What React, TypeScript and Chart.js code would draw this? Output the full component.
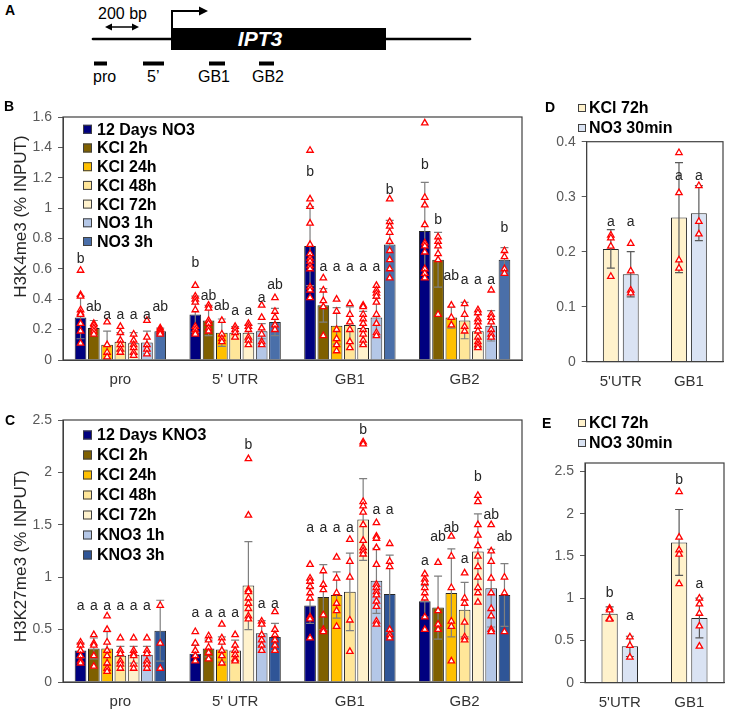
import React, { useEffect, useRef } from 'react';
import { Chart, registerables } from 'chart.js';
Chart.register(...registerables);

const FONT = 'Arial, "Liberation Sans", Helvetica, sans-serif';

// ---------------- Panel B : H3K4me3 ----------------
const regionsB = ['pro', "5' UTR", 'GB1', 'GB2'];
const seriesB = ['12 Days NO3', 'KCl 2h', 'KCl 24h', 'KCl 48h', 'KCl 72h', 'NO3 1h', 'NO3 3h'];
const colorsB = ['#00007F', '#7F6000', '#FFC000', '#FFE699', '#FFF2CC', '#B4C7E7', '#4A6FA9'];
const yTicksB = [0, 0.2, 0.4, 0.6, 0.8, 1, 1.2, 1.4, 1.6];
const meanB = [
  [0.28, 0.30, 0.75, 0.85],
  [0.21, 0.26, 0.36, 0.66],
  [0.10, 0.18, 0.225, 0.28],
  [0.12, 0.18, 0.23, 0.26],
  [0.11, 0.18, 0.21, 0.19],
  [0.115, 0.19, 0.28, 0.225],
  [0.19, 0.25, 0.76, 0.66],
];
const sdB = [
  [0.14, 0.12, 0.26, 0.32],
  [0.05, 0.10, 0.11, 0.18],
  [0.09, 0.09, 0.12, 0.07],
  [0.06, 0.04, 0.12, 0.12],
  [0.07, 0.05, 0.11, 0.11],
  [0.075, 0.05, 0.125, 0.10],
  [0.02, 0.09, 0.16, 0.08],
];
const lettersB = [
  ['b', 'b', 'b', 'b'],
  ['ab', 'ab', 'a', 'b'],
  ['a', 'ab', 'a', 'ab'],
  ['a', 'a', 'a', 'a'],
  ['a', 'a', 'a', 'a'],
  ['a', 'a', 'a', 'a'],
  ['ab', 'ab', 'b', 'b'],
];
const letterAtB = [
  [0.665, 0.636, 1.24, 1.28],
  [0.35, 0.423, 0.61, 0.92],
  [0.296, 0.357, 0.61, 0.55],
  [0.296, 0.32, 0.61, 0.526],
  [0.296, 0.32, 0.61, 0.526],
  [0.296, 0.406, 0.61, 0.526],
  [0.35, 0.49, 1.12, 0.866],
];
const ptsB_12d = [
  [0.59, 0.43, 0.42, 0.33, 0.31, 0.30, 0.24, 0.19, 0.11],
  [0.49, 0.42, 0.40, 0.38, 0.33, 0.22, 0.20, 0.18, 0.17],
  [1.38, 1.06, 1.01, 0.90, 0.76, 0.70, 0.67, 0.65, 0.62, 0.60, 0.48, 0.46, 0.41],
  [1.56, 1.07, 1.02, 0.89, 0.77, 0.75, 0.71, 0.60, 0.57, 0.54],
];
const ptsB_kcl2 = [
  [0.24, 0.23, 0.21, 0.19, 0.17],
  [0.36, 0.34, 0.26, 0.24, 0.21, 0.19],
  [0.54, 0.46, 0.39, 0.35, 0.16],
  [0.81, 0.78, 0.75, 0.70, 0.66, 0.30],
];
const ptsB_kcl24 = [
  [0.25, 0.10, 0.05, 0.02],
  [0.26, 0.17, 0.14, 0.12],
  [0.40, 0.32, 0.20, 0.14, 0.10, 0.06],
  [0.36, 0.28, 0.23],
];
const ptsB_kcl48 = [
  [0.22, 0.18, 0.13, 0.10, 0.07, 0.05],
  [0.22, 0.20, 0.18, 0.15],
  [0.37, 0.30, 0.25, 0.20, 0.12, 0.08],
  [0.37, 0.30, 0.22, 0.19],
];
const ptsB_kcl72 = [
  [0.17, 0.13, 0.10, 0.08, 0.05, 0.03],
  [0.24, 0.22, 0.20, 0.15, 0.13, 0.10],
  [0.36, 0.35, 0.30, 0.27, 0.24, 0.20, 0.17, 0.13, 0.10],
  [0.33, 0.31, 0.27, 0.25, 0.22, 0.19, 0.15, 0.12, 0.10, 0.08],
];
const ptsB_no1 = [
  [0.26, 0.15, 0.10, 0.07, 0.04],
  [0.36, 0.28, 0.21, 0.17, 0.12, 0.10],
  [0.49, 0.46, 0.44, 0.42, 0.38, 0.30, 0.24, 0.18, 0.16],
  [0.46, 0.30, 0.28, 0.25, 0.20, 0.17, 0.15],
];
const ptsB_no3 = [
  [0.21, 0.20, 0.19, 0.18, 0.17],
  [0.41, 0.32, 0.28, 0.23, 0.20],
  [1.06, 0.91, 0.88, 0.84, 0.78, 0.72, 0.66, 0.60, 0.54],
  [0.72, 0.68, 0.60, 0.57],
];

// ---------------- Panel C : H3K27me3 ----------------
const regionsC = ['pro', "5' UTR", 'GB1', 'GB2'];
const seriesC = ['12 Days KNO3', 'KCl 2h', 'KCl 24h', 'KCl 48h', 'KCl 72h', 'KNO3 1h', 'KNO3 3h'];
const colorsC = ['#00007F', '#7F6000', '#FFC000', '#FFE699', '#FFF2CC', '#B4C7E7', '#2F5597'];
const yTicksC = [0, 0.5, 1, 1.5, 2, 2.5];
const meanC = [
  [0.30, 0.27, 0.73, 0.77],
  [0.32, 0.32, 0.81, 0.71],
  [0.32, 0.31, 0.83, 0.85],
  [0.25, 0.30, 0.86, 0.69],
  [0.26, 0.92, 1.55, 1.245],
  [0.26, 0.465, 0.965, 0.895],
  [0.49, 0.43, 0.84, 0.83],
];
const sdC = [
  [0.07, 0.08, 0.17, 0.15],
  [0.10, 0.08, 0.31, 0.30],
  [0.16, 0.12, 0.22, 0.42],
  [0.09, 0.10, 0.37, 0.26],
  [0.08, 0.42, 0.39, 0.36],
  [0.08, 0.12, 0.31, 0.37],
  [0.29, 0.13, 0.37, 0.30],
];
const lettersC = [
  ['a', 'a', 'a', 'a'],
  ['a', 'a', 'a', 'ab'],
  ['a', 'a', 'a', 'ab'],
  ['a', 'a', 'a', 'a'],
  ['a', 'b', 'b', 'b'],
  ['a', 'a', 'a', 'ab'],
  ['', 'a', 'a', 'ab'],
];
const letterAtC = [
  [0.72, 0.66, 1.47, 1.156],
  [0.72, 0.66, 1.47, 1.38],
  [0.72, 0.66, 1.47, 1.47],
  [0.72, 0.66, 1.47, 1.175],
  [0.72, 2.26, 2.4, 1.95],
  [0.72, 0.745, 1.64, 1.59],
  [0, 0.745, 1.64, 1.38],
];
const ptsC_12d = [
  [0.38, 0.35, 0.30, 0.25, 0.20, 0.18],
  [0.48, 0.37, 0.30, 0.25, 0.20],
  [1.12, 0.99, 0.96, 0.91, 0.85, 0.80, 0.62, 0.60, 0.42],
  [1.03, 0.98, 0.95, 0.90, 0.85, 0.80, 0.62, 0.50],
];
const ptsC_kcl2 = [
  [0.45, 0.37, 0.35, 0.25, 0.15],
  [0.44, 0.40, 0.33, 0.28, 0.22],
  [1.06, 0.93, 0.88, 0.64, 0.50, 0.48],
  [1.14, 0.68, 0.55, 0.50],
];
const ptsC_kcl24 = [
  [0.63, 0.50, 0.38, 0.30, 0.25, 0.18, 0.13, 0.10],
  [0.55, 0.42, 0.38, 0.30, 0.25, 0.18],
  [1.19, 0.99, 0.85, 0.75, 0.68, 0.53],
  [1.39, 1.20, 0.90, 0.58, 0.53, 0.20],
];
const ptsC_kcl48 = [
  [0.42, 0.30, 0.27, 0.20, 0.17, 0.13],
  [0.45, 0.35, 0.30, 0.26, 0.22, 0.20],
  [1.36, 1.15, 1.00, 0.59, 0.29],
  [1.04, 0.80, 0.75, 0.57, 0.43, 0.40],
];
const ptsC_kcl72 = [
  [0.42, 0.30, 0.27, 0.25, 0.17, 0.13],
  [2.13, 1.59, 0.88, 0.86, 0.80, 0.75, 0.70, 0.63, 0.60],
  [2.29, 2.27, 1.72, 1.68, 1.62, 1.50, 1.35, 1.28, 1.25, 1.22],
  [1.78, 1.72, 1.50, 1.40, 1.30, 1.20, 1.10, 1.00, 0.90, 0.85, 0.76],
];
const ptsC_kno1 = [
  [0.42, 0.30, 0.27, 0.20, 0.17, 0.13],
  [0.58, 0.55, 0.45, 0.40, 0.35, 0.30],
  [1.52, 1.39, 1.37, 1.28, 1.12, 0.93, 0.90, 0.86, 0.83, 0.77, 0.72, 0.58, 0.55],
  [1.50, 1.25, 1.15, 0.99, 0.85, 0.70, 0.63, 0.50, 0.48],
];
const ptsC_kno3 = [
  [0.73, 0.37, 0.13],
  [0.67, 0.50, 0.45, 0.40, 0.35, 0.30],
  [1.32, 1.15, 1.10, 0.50, 0.45, 0.42],
  [1.00, 0.85, 0.48],
];

// ---------------- Panels D and E ----------------
const regionsDE = ["5'UTR", 'GB1'];
const seriesDE = ['KCl 72h', 'NO3 30min'];
const colorsDE = ['#FFF2CC', '#DAE3F3'];

const yTicksD = [0, 0.1, 0.2, 0.3, 0.4];
const meanD = [[0.205, 0.262], [0.159, 0.27]];
const sdD = [[0.035, 0.10], [0.041, 0.05]];
const lettersD = [['a', 'a'], ['a', 'a']];
const letterAtD = [[0.253, 0.338], [0.253, 0.338]];
const ptsD_kcl72 = [[0.23, 0.225, 0.21, 0.155], [0.38, 0.307, 0.185, 0.17]];
const ptsD_no30 = [[0.215, 0.165, 0.13, 0.125], [0.32, 0.255, 0.232]];

const yTicksE = [0, 0.5, 1, 1.5, 2, 2.5];
const meanE = [[0.817, 1.66], [0.43, 0.765]];
const sdE = [[0.08, 0.39], [0.12, 0.235]];
const lettersE = [['b', 'b'], ['a', 'a']];
const letterAtE = [[1.055, 2.4], [0.785, 1.17]];
const ptsE_kcl72 = [[0.88, 0.86, 0.76, 0.75], [2.26, 1.72, 1.57, 1.52, 1.17]];
const ptsE_no30 = [[0.54, 0.44, 0.30], [1.0, 0.93, 0.82, 0.67, 0.43]];

// ---------------- overlay plugin (error bars, points, letters, box, legend, title) ----------------
const overlay = {
  id: 'overlay',
  afterDatasetsDraw(chart: any) {
    const { ctx } = chart;
    const y = chart.scales.y;
    const o = chart.options.plugins.overlay;
    chart.data.datasets.forEach((ds: any, i: number) => {
      const meta = chart.getDatasetMeta(i);
      meta.data.forEach((bar: any, j: number) => {
        const x = bar.x;
        const m = ds.data[j];
        const s = ds.sd[j];
        const yt = y.getPixelForValue(m + s);
        const yb = y.getPixelForValue(Math.max(0, m - s));
        ctx.save();
        ctx.strokeStyle = o.errColor;
        ctx.lineWidth = 1.2;
        ctx.beginPath();
        ctx.moveTo(x, yt); ctx.lineTo(x, yb);
        ctx.moveTo(x - o.cap, yt); ctx.lineTo(x + o.cap, yt);
        ctx.moveTo(x - o.cap, yb); ctx.lineTo(x + o.cap, yb);
        ctx.stroke();
        // points
        const r = o.pointR;
        ctx.strokeStyle = '#FF0000';
        ctx.fillStyle = '#FFFFFF';
        ctx.lineWidth = 1.3;
        (ds.pts[j] || []).forEach((v: number) => {
          const py = y.getPixelForValue(v);
          ctx.beginPath();
          ctx.moveTo(x, py - r);
          ctx.lineTo(x + r * 0.866, py + r * 0.5);
          ctx.lineTo(x - r * 0.866, py + r * 0.5);
          ctx.closePath();
          ctx.fill();
          ctx.stroke();
        });
        // letters
        const L = ds.letters[j];
        if (L) {
          ctx.fillStyle = '#262626';
          ctx.font = `${o.letterSize}px ${FONT}`;
          ctx.textAlign = 'center';
          ctx.textBaseline = 'middle';
          ctx.fillText(L, x, y.getPixelForValue(ds.letterAt[j]));
        }
        ctx.restore();
      });
    });
  },
  afterDraw(chart: any) {
    const { ctx, chartArea } = chart;
    const o = chart.options.plugins.overlay;
    ctx.save();
    ctx.strokeStyle = '#404040';
    ctx.lineWidth = 1.2;
    ctx.strokeRect(chartArea.left, chartArea.top, chartArea.right - chartArea.left, chartArea.bottom - chartArea.top);
    // legend
    const lg = o.legend;
    chart.data.datasets.forEach((ds: any, i: number) => {
      const yy = lg.y + i * lg.gap;
      ctx.fillStyle = ds.backgroundColor;
      ctx.fillRect(lg.x, yy - lg.box / 2, lg.box, lg.box);
      ctx.strokeStyle = '#404040';
      ctx.lineWidth = 1;
      ctx.strokeRect(lg.x + 0.5, yy - lg.box / 2 + 0.5, lg.box - 1, lg.box - 1);
      ctx.fillStyle = '#000';
      ctx.font = `bold ${lg.size}px ${FONT}`;
      ctx.textAlign = 'left';
      ctx.textBaseline = 'middle';
      ctx.fillText(ds.label, lg.x + lg.box + lg.textGap, yy + 1);
    });
    // y title
    if (o.title && o.title.text) {
      const cy = chartArea.top + (chartArea.bottom - chartArea.top) * o.title.frac;
      ctx.translate(o.title.x, cy);
      ctx.rotate(-Math.PI / 2);
      ctx.fillStyle = '#262626';
      ctx.font = `${o.title.size}px ${FONT}`;
      ctx.textAlign = 'center';
      ctx.textBaseline = 'middle';
      ctx.fillText(o.title.text, 0, 0);
    }
    ctx.restore();
  },
};

type Panel = {
  left: number; top: number; width: number; height: number;
  pad: { top: number; right: number; left: number; bottom: number };
  yWidth: number; xHeight: number;
  categories: string[]; series: string[]; colors: string[];
  mean: number[][]; sd: number[][]; pts: number[][][]; letters: string[][]; letterAt: number[][];
  yTicks: number[]; yMax: number; catPct: number; barPct: number;
  errColor: string; cap: number;
  title: { text: string; x: number; frac: number; size: number } | null;
  legend: { x: number; y: number; gap: number; box: number; size: number; textGap: number };
  tickFont: number; xFont: number; xPad: number; letterSize: number;
};

function buildConfig(p: Panel): any {
  return {
    type: 'bar',
    data: {
      labels: p.categories,
      datasets: p.series.map((name, i) => ({
        label: name,
        data: p.mean[i],
        backgroundColor: p.colors[i],
        borderColor: '#262626',
        borderWidth: 1,
        categoryPercentage: p.catPct,
        barPercentage: p.barPct,
        sd: p.sd[i],
        pts: p.pts[i],
        letters: p.letters[i],
        letterAt: p.letterAt[i],
      })),
    },
    options: {
      responsive: false,
      animation: false,
      devicePixelRatio: 1,
      layout: { padding: p.pad },
      plugins: {
        legend: { display: false },
        tooltip: { enabled: false },
        overlay: {
          errColor: p.errColor, cap: p.cap, pointR: 3.7, letterSize: p.letterSize,
          title: p.title, legend: p.legend,
        },
      },
      scales: {
        x: {
          grid: { display: false, drawTicks: false },
          border: { display: true, color: '#404040' },
          ticks: { color: '#333333', font: { family: FONT, size: p.xFont }, padding: p.xPad, maxRotation: 0, autoSkip: false },
          afterFit: (s: any) => { s.height = p.xHeight; },
        },
        y: {
          min: 0,
          max: p.yMax,
          afterBuildTicks: (s: any) => { s.ticks = p.yTicks.map((v) => ({ value: v })); },
          ticks: {
            color: '#595959',
            font: { family: FONT, size: p.tickFont },
            padding: 6,
            callback: (v: any) => String(+Number(v).toFixed(2)),
          },
          grid: { drawOnChartArea: false, drawTicks: true, tickLength: 5, color: '#595959', lineWidth: 1 },
          border: { display: true, color: '#404040', width: 1 },
          afterFit: (s: any) => { s.width = p.yWidth; },
        },
      },
    },
    plugins: [overlay],
  };
}

const panelB: Panel = {
  left: 0, top: 95, width: 530, height: 300,
  pad: { top: 22, right: 8, left: 0, bottom: 0 }, yWidth: 63, xHeight: 35,
  categories: regionsB, series: seriesB, colors: colorsB,
  mean: meanB, sd: sdB,
  pts: [ptsB_12d, ptsB_kcl2, ptsB_kcl24, ptsB_kcl48, ptsB_kcl72, ptsB_no1, ptsB_no3],
  letters: lettersB, letterAt: letterAtB,
  yTicks: yTicksB, yMax: 1.6, catPct: 0.81, barPct: 0.88,
  errColor: '#7F7F7F', cap: 4,
  title: { text: 'H3K4me3 (% INPUT)', x: 21, frac: 0.41, size: 17 },
  legend: { x: 83, y: 34.3, gap: 18.7, box: 9, size: 16, textGap: 5 },
  tickFont: 14, xFont: 15, xPad: 11, letterSize: 14,
};

const panelC: Panel = {
  left: 0, top: 400, width: 530, height: 311,
  pad: { top: 20, right: 8, left: 0, bottom: 0 }, yWidth: 63, xHeight: 29,
  categories: regionsC, series: seriesC, colors: colorsC,
  mean: meanC, sd: sdC,
  pts: [ptsC_12d, ptsC_kcl2, ptsC_kcl24, ptsC_kcl48, ptsC_kcl72, ptsC_kno1, ptsC_kno3],
  letters: lettersC, letterAt: letterAtC,
  yTicks: yTicksC, yMax: 2.5, catPct: 0.81, barPct: 0.88,
  errColor: '#7F7F7F', cap: 4,
  title: { text: 'H3K27me3 (% INPUT)', x: 21, frac: 0.52, size: 17 },
  legend: { x: 83, y: 35, gap: 20, box: 9, size: 16, textGap: 5 },
  tickFont: 14, xFont: 15, xPad: 11, letterSize: 14,
};

const panelD: Panel = {
  left: 530, top: 95, width: 199, height: 300,
  pad: { top: 46.7, right: 6, left: 0, bottom: 0 }, yWidth: 56.7, xHeight: 33.3,
  categories: regionsDE, series: seriesDE, colors: colorsDE,
  mean: meanD, sd: sdD, pts: [ptsD_kcl72, ptsD_no30],
  letters: lettersD, letterAt: letterAtD,
  yTicks: yTicksD, yMax: 0.4, catPct: 0.584, barPct: 0.8,
  errColor: '#595959', cap: 4,
  title: null,
  legend: { x: 48, y: 13, gap: 20, box: 8, size: 16, textGap: 3 },
  tickFont: 14, xFont: 15, xPad: 11, letterSize: 14,
};

const panelE: Panel = {
  left: 530, top: 400, width: 199, height: 311,
  pad: { top: 63, right: 5, left: 0, bottom: 0 }, yWidth: 55, xHeight: 28.3,
  categories: regionsDE, series: seriesDE, colors: colorsDE,
  mean: meanE, sd: sdE, pts: [ptsE_kcl72, ptsE_no30],
  letters: lettersE, letterAt: letterAtE,
  yTicks: yTicksE, yMax: 2.6, catPct: 0.584, barPct: 0.8,
  errColor: '#595959', cap: 4,
  title: null,
  legend: { x: 48, y: 23, gap: 20, box: 8, size: 16, textGap: 3 },
  tickFont: 14, xFont: 15, xPad: 11, letterSize: 14,
};

function PanelChart({ p }: { p: Panel }) {
  const ref = useRef<HTMLCanvasElement>(null);
  useEffect(() => {
    const chart = new Chart(ref.current as HTMLCanvasElement, buildConfig(p));
    return () => chart.destroy();
  }, []);
  return (
    <canvas
      ref={ref}
      width={p.width}
      height={p.height}
      style={{ position: 'absolute', left: p.left, top: p.top, width: p.width, height: p.height }}
    />
  );
}

function GeneDiagram() {
  return (
    <svg width={500} height={95} style={{ position: 'absolute', left: 0, top: 0 }}>
      <text x={98} y={19} fontFamily={FONT} fontSize={16} fill="#000">200 bp</text>
      <line x1={110} y1={27} x2={134} y2={27} stroke="#000" strokeWidth={1.5} />
      <polygon points="105,27 112,23.5 112,30.5" fill="#000" />
      <polygon points="139,27 132,23.5 132,30.5" fill="#000" />
      <line x1={93} y1={39} x2={470} y2={39} stroke="#000" strokeWidth={2.7} strokeLinecap="round" />
      <rect x={171} y={28} width={215} height={22} fill="#000" />
      <text x={260} y={46} textAnchor="middle" fontFamily={FONT} fontSize={21} fontWeight="bold" fontStyle="italic" fill="#fff">IPT3</text>
      <path d="M172 28 V11 H200" stroke="#000" strokeWidth={2} fill="none" />
      <polygon points="208,11 199,6.5 199,15.5" fill="#000" />
      <rect x={94} y={61.5} width={13} height={4} fill="#000" />
      <rect x={143} y={61.5} width={21} height={4} fill="#000" />
      <rect x={209} y={61.5} width={16} height={4} fill="#000" />
      <rect x={259} y={61.5} width={15} height={4} fill="#000" />
      <text x={93} y={82} fontFamily={FONT} fontSize={16} fill="#000">pro</text>
      <text x={147} y={82} fontFamily={FONT} fontSize={16} fill="#000">5’</text>
      <text x={198} y={82} fontFamily={FONT} fontSize={16} fill="#000">GB1</text>
      <text x={252} y={82} fontFamily={FONT} fontSize={16} fill="#000">GB2</text>
    </svg>
  );
}

const labelStyle = (left: number, top: number): React.CSSProperties => ({
  position: 'absolute', left, top, fontFamily: FONT, fontWeight: 'bold', fontSize: 14, lineHeight: '14px', color: '#000',
});

export default function App() {
  return (
    <div style={{ position: 'absolute', left: 0, top: 0, width: 729, height: 711, background: '#fff', overflow: 'hidden' }}>
      <GeneDiagram />
      <PanelChart p={panelB} />
      <PanelChart p={panelC} />
      <PanelChart p={panelD} />
      <PanelChart p={panelE} />
      <div style={labelStyle(5, 3)}>A</div>
      <div style={labelStyle(4, 99)}>B</div>
      <div style={labelStyle(5, 413)}>C</div>
      <div style={labelStyle(545, 100)}>D</div>
      <div style={labelStyle(542, 416)}>E</div>
    </div>
  );
}
